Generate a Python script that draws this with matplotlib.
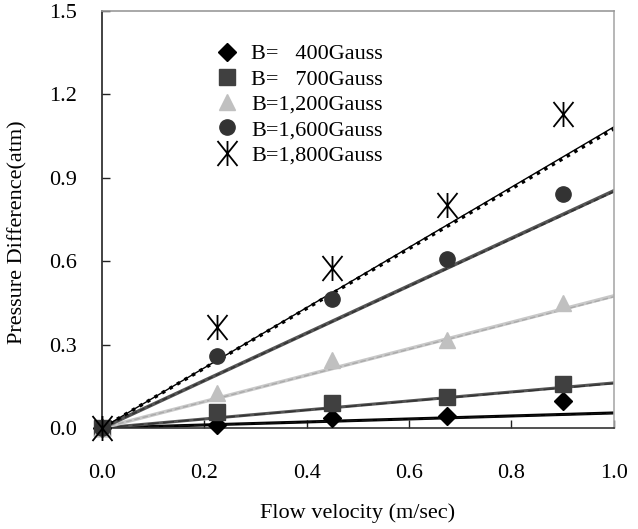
import matplotlib
matplotlib.use("Agg")
import matplotlib.pyplot as plt
import numpy as np
from matplotlib.path import Path

plt.rcParams['font.family'] = ['Liberation Serif', 'DejaVu Serif']

velocity = [0.0, 0.225, 0.45, 0.675, 0.9]
p400 = [0.0, 0.01, 0.036, 0.043, 0.097]
p700 = [0.0, 0.058, 0.09, 0.11, 0.158]
p1200 = [0.0, 0.126, 0.245, 0.317, 0.45]
p1600 = [0.0, 0.259, 0.464, 0.608, 0.842]
p1800 = [0.0, 0.363, 0.576, 0.802, 1.13]

labels = ['B=   400Gauss', 'B=   700Gauss', 'B=1,200Gauss', 'B=1,600Gauss', 'B=1,800Gauss']
# trend-line slopes (fit, theory)
slope_fit = [0.054, 0.162, 0.475, 0.853, 1.083]
slope_theory = [0.053, 0.160, 0.472, 0.850, 1.076]

xticks = [0.0, 0.2, 0.4, 0.6, 0.8, 1.0]
yticks = [0.0, 0.3, 0.6, 0.9, 1.2, 1.5]

star = Path([(0, -1), (0, 1), (-0.8, -1), (0.8, 1), (-0.8, 1), (0.8, -1)],
            [Path.MOVETO, Path.LINETO, Path.MOVETO, Path.LINETO, Path.MOVETO, Path.LINETO])

fig = plt.figure(figsize=(6.38, 5.29), dpi=100)
ax = fig.add_axes([0.160, 0.191, 0.802, 0.788])

xl = np.array([0.0, 1.0])
fit_styles = [
    dict(color='black', lw=2.2, ls='-'),
    dict(color='#555555', lw=2.2, ls='-'),
    dict(color='#c8c8c8', lw=2.6, ls='-'),
    dict(color='#555555', lw=2.6, ls='-'),
    dict(color='black', lw=1.0, ls='-'),
]
theory_styles = [
    dict(color='#111111', lw=1.0, ls=(0, (8, 3))),
    dict(color='#333333', lw=1.0, ls=(0, (8, 3))),
    dict(color='#aaaaaa', lw=1.0, ls=(0, (4, 2))),
    dict(color='#333333', lw=1.2, ls=(0, (3, 2))),
    dict(color='black', lw=2.5, ls=(0, (1, 1.5))),
]
for sf, st, fs, ts in zip(slope_fit, slope_theory, fit_styles, theory_styles):
    ax.plot(xl, sf * xl, zorder=2, **fs)
    ax.plot(xl, st * xl, zorder=2, **ts)

series = [p400, p700, p1200, p1600, p1800]
mk = [dict(marker='D', color='black', ms=9),
      dict(marker='s', color='#404040', ms=11),
      dict(marker='^', color='#c0c0c0', ms=12),
      dict(marker='o', color='#333333', ms=11),
      dict(marker=star, color='black', ms=18, mew=1.3, mfc='none')]
for ys, lab, m in zip(series, labels, mk):
    ax.plot(velocity, ys, ls='none', label=lab, zorder=3, clip_on=False, **m)

ax.set_xlim(0, 1.0)
ax.set_ylim(0, 1.5)
ax.set_xticks(xticks)
ax.set_yticks(yticks)
ax.set_xticklabels([f'{v:.1f}' for v in xticks], fontsize=16)
ax.set_yticklabels([f'{v:.1f}' for v in yticks], fontsize=16)
ax.tick_params(direction='in', length=6, width=1, colors='#222222')
ax.tick_params(axis='y', pad=18)
ax.tick_params(axis='x', pad=26)
for lab in ax.get_xticklabels() + ax.get_yticklabels():
    lab.set_color('black')
for lab in ax.get_yticklabels():
    lab.set_y(lab.get_position()[1])
ax.spines['left'].set_color('#222222')
ax.spines['bottom'].set_color('#333333')
ax.spines['top'].set_color('#999999')
ax.spines['right'].set_color('#aaaaaa')
for s in ax.spines.values():
    s.set_linewidth(1.2)

ax.set_xlabel('Flow velocity (m/sec)', fontsize=16)
ax.set_ylabel('Pressure Difference(atm)', fontsize=16)
ax.xaxis.set_label_coords(0.5, -0.18)
ax.yaxis.set_label_coords(-0.145, 0.47)

leg = ax.legend(loc='upper left', bbox_to_anchor=(0.2, 0.948), frameon=False,
                fontsize=16, handlelength=1.0, handletextpad=0.6,
                labelspacing=0.21, borderpad=0)

fig.savefig('out.png', dpi=100)
